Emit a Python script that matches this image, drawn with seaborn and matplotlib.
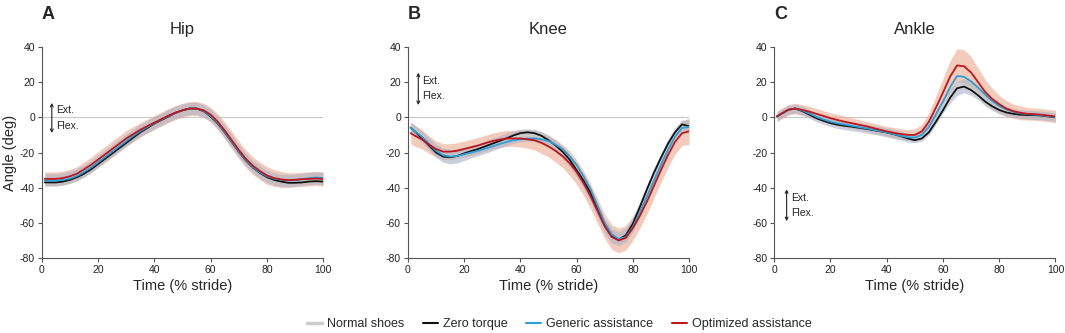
import numpy as np
import matplotlib
matplotlib.use("Agg")
import matplotlib.pyplot as plt
import matplotlib.lines as mlines
import seaborn as sns

# Stride percentage shared by all curves
STRIDE = [1, 2.5, 5, 7.5, 10, 12.5, 15, 17.5, 20, 22.5, 25, 27.5, 30, 32.5, 35, 37.5,
          40, 42.5, 45, 47.5, 50, 52.5, 55, 57.5, 60, 62.5, 65, 67.5, 70, 72.5, 75,
          77.5, 80, 82.5, 85, 87.5, 90, 92.5, 95, 97.5, 100]

# Hip angle (deg)
HIP_NORMAL = [-35.5, -35.5, -35.5, -35, -34, -32.5, -30.5, -28, -25, -22, -19, -16, -13, -10.2,
              -7.5, -5.3, -3, -1, 1, 2.8, 4.2, 5, 5, 3.8, 1, -3, -8, -13.5, -19, -24, -28, -31,
              -33.5, -35, -35.8, -36, -35.8, -35.3, -34.8, -34.5, -34.8]
HIP_ZERO = [-37, -37, -37, -36.5, -35.5, -34, -32, -29.5, -26.5, -23.5, -20.5, -17.5, -14.5,
            -11.5, -8.5, -6, -3.5, -1.5, 0.5, 2.5, 4, 5, 5, 3.5, 0.5, -3.5, -8.5, -14, -19.5,
            -24.5, -28.5, -31.5, -34, -35.5, -36.5, -37.2, -37.2, -37, -36.5, -36.3, -36.5]
HIP_GENERIC = [-36, -36, -36, -35.5, -34.8, -33.3, -31, -28.5, -25.5, -22.5, -19.5, -16.5, -13.5,
               -10.5, -7.8, -5.5, -3.2, -1.2, 0.8, 2.6, 4, 5, 5, 3.7, 0.8, -3.2, -8.2, -13.7,
               -19.2, -24.2, -28.2, -31.2, -33.5, -34.8, -35.5, -35.8, -35.6, -35.2, -34.6,
               -34.2, -34.5]
HIP_OPTIMIZED = [-35, -35, -35, -34.5, -33.5, -32, -29.5, -27, -24, -21, -18, -15, -12, -9.5, -7,
                 -5, -3, -1, 1, 2.7, 4, 5, 5, 4, 1.5, -2.5, -7.5, -13, -18.5, -23.5, -27.5, -30.5,
                 -33, -34.5, -35.3, -35.7, -35.5, -35.2, -35, -34.8, -35]
HIP_NORMAL_SD = [3.5] * 41
HIP_OPT_SD = [4, 4, 4, 4, 4, 4, 4.2, 4.3, 4.5, 4.5, 4.5, 4.5, 4.5, 4.3, 4, 4, 4, 4, 4, 4, 4,
              4, 4, 4, 4.2, 4.5, 4.8, 5, 5, 5, 5, 5, 5, 4.8, 4.5, 4.2, 4, 4, 4, 4, 4]

# Knee angle (deg)
KNEE_NORMAL = [-5.5, -7.5, -11, -15, -19, -21.5, -22.5, -22, -20.8, -19.5, -18.3, -17, -15.5, -14,
               -12.5, -11.3, -10.3, -10, -10.3, -11.5, -13.5, -16.5, -20, -24.5, -30, -36.5, -44,
               -53, -62, -67.5, -69, -67, -61, -52, -42.5, -33, -24.5, -16, -9, -4.5, -4.5]
KNEE_ZERO = [-6, -8, -12, -16, -20, -22.3, -22.7, -22, -20.5, -19.2, -18, -16.5, -15, -13.5, -12,
             -10.3, -9, -8.5, -9, -10.5, -13, -16, -19.5, -24, -30, -36, -43, -52, -61, -67.5,
             -69.5, -67, -60.5, -51, -41, -31.5, -23, -15, -8.5, -4, -5]
KNEE_GENERIC = [-6, -8, -11, -15, -19, -21.5, -22.3, -22, -21, -20, -19, -17.8, -16.5, -15.2, -14,
                -13, -12.5, -12.2, -12, -12.5, -13.5, -15.5, -18, -22, -27, -33.5, -41, -50.5,
                -60, -66.5, -69.2, -68, -62.5, -54, -45, -36, -27, -18.5, -11, -6, -5.5]
KNEE_OPTIMIZED = [-9, -10.5, -12.5, -15.5, -18, -19.5, -19.5, -19, -18, -17, -16, -14.7, -13.5,
                  -12.7, -12, -12, -12, -12.5, -13, -14.5, -16.5, -19, -22, -26, -31, -37.5, -45,
                  -53.5, -62, -68, -70, -68.5, -63, -56, -48, -39, -30, -21.5, -14, -9, -8]
KNEE_NORMAL_SD = [3, 3, 3.2, 3.5, 3.8, 4, 4, 4, 3.8, 3.5, 3.5, 3.5, 3.5, 3.5, 3.5, 3.5, 3.5, 3.5,
                  3.5, 3.5, 3.5, 3.5, 3.5, 3.5, 3.8, 4, 4, 4, 4, 4, 4, 4, 4, 4, 4, 4, 3.8, 3.5, 3,
                  3, 3]
KNEE_OPT_SD = [6, 6, 5.5, 5, 4.5, 4.5, 4.5, 4.5, 4.5, 4.5, 4.5, 4.5, 4.5, 4.5, 4.5, 4.5, 4.8, 5,
               5.5, 6, 6, 6.5, 6.5, 7, 7, 7, 7, 7, 7, 7, 7, 7, 7, 7, 7, 7, 7, 7, 7, 7, 7.5]

# Ankle angle (deg)
ANKLE_NORMAL = [0.5, 2, 4.3, 5, 3.7, 2, 0, -1.5, -2.8, -3.8, -4.5, -5.1, -5.7, -6.4, -7.1, -7.8,
                -8.6, -9.5, -10.5, -11.5, -12, -10.5, -6.5, 0, 6.5, 12, 16.5, 18, 16.5, 13.5, 10,
                7, 4.8, 3.3, 2.4, 1.8, 1.5, 1.3, 1.1, 0.6, 0.1]
ANKLE_ZERO = [0.5, 2, 4.3, 5, 3.5, 1.5, -0.5, -2, -3.3, -4.2, -4.8, -5.3, -5.9, -6.5, -7.2, -7.9,
              -8.6, -9.6, -10.7, -12, -13, -12, -8.5, -2.5, 4, 11, 16.5, 17.5, 15.5, 12.5, 9, 6.3,
              4.2, 2.8, 2, 1.5, 1.3, 1.2, 1, 0.5, 0]
ANKLE_GENERIC = [0.5, 2, 4.2, 5, 3.8, 2.2, 0.3, -1.2, -2.5, -3.4, -4.1, -4.8, -5.5, -6.2, -7, -7.8,
                 -8.6, -9.5, -10.5, -11.3, -11.5, -10, -5.5, 1.5, 9, 17, 23.5, 23, 20.5, 17, 13,
                 9.3, 6.5, 4.5, 3.2, 2.3, 1.8, 1.5, 1.2, 0.7, 0.2]
ANKLE_OPTIMIZED = [0.5, 2, 4.3, 5, 4.2, 3.2, 2, 0.8, -0.5, -1.5, -2.5, -3.3, -4.2, -5, -6, -7, -8,
                   -8.8, -9.5, -10, -10, -8, -2.5, 5.5, 14, 23, 29.5, 29, 25.5, 20, 14.5, 10.5,
                   7.5, 5, 3.5, 2.6, 2, 1.8, 1.5, 1, 0.5]
ANKLE_NORMAL_SD = [2.5, 2.5, 2.5, 2.5, 2.5, 2.5, 2.5, 2.5, 2.5, 2.5, 2.5, 2.5, 2.5, 2.5, 2.5, 2.5,
                   2.5, 2.5, 2.5, 2.5, 2.5, 3, 3.5, 4, 4, 4, 4, 4, 4, 3.5, 3.5, 3, 3, 2.5, 2.5, 2.5,
                   2.5, 2.5, 2.5, 2.5, 2.5]
ANKLE_OPT_SD = [3, 3, 3, 3, 3, 3, 3, 3, 3, 3.2, 3.2, 3, 3, 2.8, 2.8, 2.8, 2.8, 3, 3, 3, 3.5, 4, 5,
                6.5, 8, 9, 9.5, 9.5, 9, 8, 7, 6, 5, 4.5, 4, 4, 3.5, 3.5, 3.5, 3.5, 3.5]

JOINTS = ["Hip", "Knee", "Ankle"]
PANEL_LETTERS = ["A", "B", "C"]
LEGEND_LABELS = ["Normal shoes", "Zero torque", "Generic assistance", "Optimized assistance"]
X_TICKS = [0, 20, 40, 60, 80, 100]
Y_TICKS = [-80, -60, -40, -20, 0, 20, 40]

COL_NORMAL = "#cdcdcd"
COL_ZERO = "#111111"
COL_GENERIC = "#2a9fd8"
COL_OPT = "#c0151c"


def draw_joint(ax, normal, zero, generic, opt, normal_sd, opt_sd):
    x = np.array(STRIDE)
    opt = np.array(opt)
    normal = np.array(normal)
    ax.axhline(0, color="#c8c8c8", lw=0.8, zorder=0)
    ax.fill_between(x, opt - np.array(opt_sd), opt + np.array(opt_sd),
                    color="#eba98e", alpha=0.6, lw=0, zorder=1)
    ax.fill_between(x, normal - np.array(normal_sd), normal + np.array(normal_sd),
                    color="#a9b2c6", alpha=0.6, lw=0, zorder=2)
    sns.lineplot(x=x, y=normal, ax=ax, color=COL_NORMAL, lw=2.0, zorder=3)
    sns.lineplot(x=x, y=zero, ax=ax, color=COL_ZERO, lw=1.3, zorder=4)
    sns.lineplot(x=x, y=generic, ax=ax, color=COL_GENERIC, lw=1.3, zorder=5)
    sns.lineplot(x=x, y=opt, ax=ax, color=COL_OPT, lw=1.3, zorder=6)


def ext_flex(ax, x, y_top, y_bot):
    ax.annotate("", xy=(x, y_top), xytext=(x, y_bot),
                arrowprops=dict(arrowstyle="<->", color="#222222", lw=0.8,
                                mutation_scale=5, shrinkA=0, shrinkB=0))
    mid = (y_top + y_bot) / 2
    ax.text(x + 1.5, mid + 4.3, "Ext.", fontsize=7.5, va="center", ha="left", color="#222222")
    ax.text(x + 1.5, mid - 4.3, "Flex.", fontsize=7.5, va="center", ha="left", color="#222222")


def main():
    sns.set_style("ticks")
    plt.rcParams["font.family"] = ["Liberation Sans", "DejaVu Sans"]
    plt.rcParams["axes.unicode_minus"] = False

    fig = plt.figure(figsize=(10.65, 3.33), dpi=100)
    lefts = [0.0394, 0.383, 0.727]
    axes = [fig.add_axes([l, 0.225, 0.264, 0.634]) for l in lefts]

    draw_joint(axes[0], HIP_NORMAL, HIP_ZERO, HIP_GENERIC, HIP_OPTIMIZED, HIP_NORMAL_SD, HIP_OPT_SD)
    draw_joint(axes[1], KNEE_NORMAL, KNEE_ZERO, KNEE_GENERIC, KNEE_OPTIMIZED, KNEE_NORMAL_SD, KNEE_OPT_SD)
    draw_joint(axes[2], ANKLE_NORMAL, ANKLE_ZERO, ANKLE_GENERIC, ANKLE_OPTIMIZED, ANKLE_NORMAL_SD, ANKLE_OPT_SD)

    ext_flex(axes[0], 3.5, 8.2, -8.9)
    ext_flex(axes[1], 3.7, 25.4, 7.0)
    ext_flex(axes[2], 4.4, -40.9, -59.0)

    for ax, joint, letter in zip(axes, JOINTS, PANEL_LETTERS):
        ax.set_xlim(0, 100)
        ax.set_ylim(-80, 40)
        ax.set_xticks(X_TICKS)
        ax.set_yticks(Y_TICKS)
        ax.tick_params(labelsize=7.5, length=3, width=0.8, color="#555555", pad=2, labelcolor="#222222")
        for s in ["left", "bottom"]:
            ax.spines[s].set_color("#555555")
            ax.spines[s].set_linewidth(0.8)
        sns.despine(ax=ax)
        ax.set_title(joint, fontsize=12, pad=9)
        ax.set_xlabel("Time (% stride)", fontsize=10.5, labelpad=3)
        ax.set_ylabel("")
        ax.text(0.0, 1.195, letter, transform=ax.transAxes, fontsize=13, fontweight="bold",
                ha="left", va="top")
    axes[0].set_ylabel("Angle (deg)", fontsize=10.5, labelpad=2)

    handles = [
        mlines.Line2D([], [], color=COL_NORMAL, lw=2.5),
        mlines.Line2D([], [], color=COL_ZERO, lw=1.5),
        mlines.Line2D([], [], color=COL_GENERIC, lw=1.5),
        mlines.Line2D([], [], color=COL_OPT, lw=1.5),
    ]
    fig.legend(handles, LEGEND_LABELS, loc="lower center", bbox_to_anchor=(0.525, -0.025),
               ncol=4, frameon=False, fontsize=9, handlelength=1.2, handletextpad=0.4,
               columnspacing=1.5)

    fig.savefig("out.png", dpi=100)


if __name__ == "__main__":
    main()
